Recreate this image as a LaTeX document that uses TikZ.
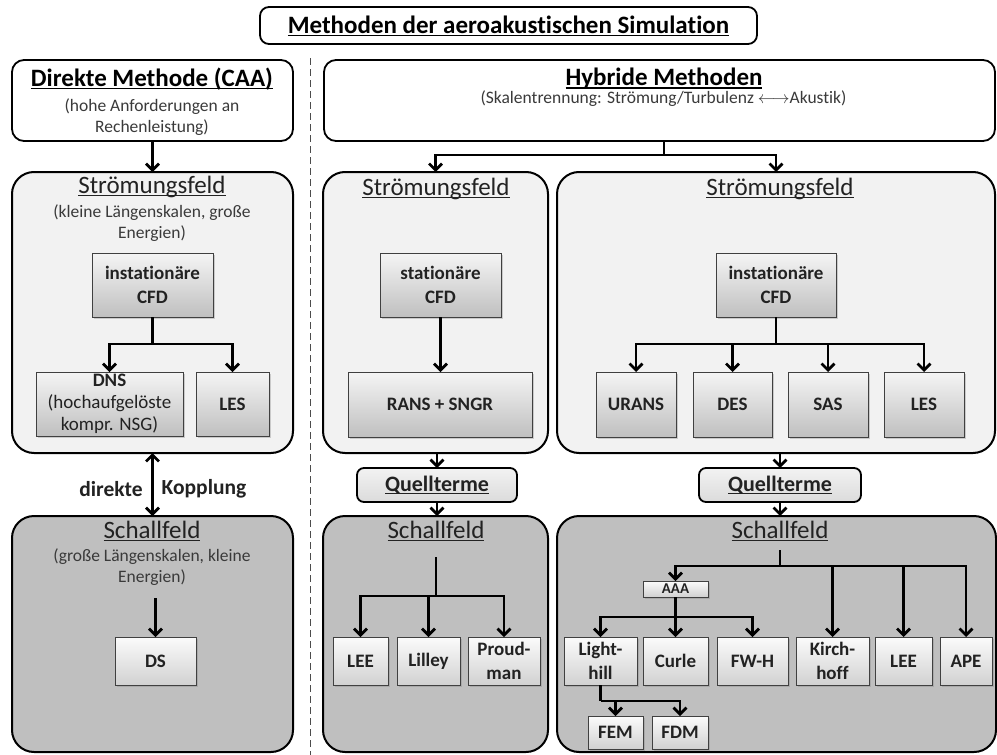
\documentclass[tikz,border=0pt]{standalone}
\usepackage{fontspec}
\setmainfont{Carlito}[Ligatures=NoCommon]
\usetikzlibrary{arrows.meta,shadows}
\definecolor{strfill}{HTML}{F2F2F2}
\definecolor{schfill}{HTML}{BFBFBF}
\definecolor{txt}{HTML}{222222}
\definecolor{subtxt}{HTML}{3A3A3A}
\newcommand\myul[1]{\setbox0=\hbox{#1}\rlap{\rule[-0.11em]{\wd0}{0.055em}}\box0}
\newcommand\bx[7][]{%
  \node[#1, minimum width={(#5-#3)*1pt}, minimum height={(#6-#4)*1pt}] (#2) at ({(#3+#5)/2},{(#4+#6)/2}) {#7};}
\tikzset{
  container/.style={draw=black, line width=2pt, rounded corners=22pt, inner sep=0pt, outer sep=0pt},
  strc/.style={container, fill=strfill},
  schc/.style={container, fill=schfill},
  topbox/.style={draw=black, line width=1.8pt, rounded corners=12pt, fill=white, inner sep=0pt, outer sep=0pt},
  gbox/.style={draw=black!75, line width=0.9pt, top color=gray!8, bottom color=gray!50,
     drop shadow={shadow xshift=2pt, shadow yshift=-2pt, opacity=0.35},
     align=center, font=\fontsize{19}{24}\selectfont\bfseries, text=txt, inner sep=0pt, outer sep=0pt},
  gboxS/.style={gbox, top color=gray!3, bottom color=gray!36},
  qbox/.style={draw=black, line width=1.8pt, rounded corners=7pt, top color=gray!10, bottom color=gray!28,
     font=\fontsize{22}{26}\selectfont\bfseries, text=txt, inner sep=0pt, outer sep=0pt},
  ttl/.style={font=\fontsize{25}{30}\selectfont, text=txt, inner sep=0pt},
  head/.style={font=\fontsize{25}{30}\selectfont\bfseries, text=black, inner sep=0pt},
  sub/.style={font=\fontsize{17.5}{21}\selectfont, text=subtxt, align=center, inner sep=0pt},
  line/.style={draw=black, line width=2.7pt},
  arr/.style={line, -{Straight Barb[length=6.5pt,width=13pt]}},
  darr/.style={line, {Straight Barb[length=6.5pt,width=13pt]}-{Straight Barb[length=6.5pt,width=13pt]}},
  dashline/.style={draw=black!70, line width=0.8pt, dash pattern=on 7pt off 4pt}
}
\begin{document}
\begin{tikzpicture}[x=1pt,y=-1pt]
\useasboundingbox (0,0) rectangle (997,755);
\fill[white] (0,0) rectangle (997,755);

% title
\bx[topbox, rounded corners=9pt]{title}{260}{7}{757}{44}{}
\node[head] (titleT) at (508.5,26) {\myul{Methoden der aeroakustischen Simulation}};

% separator
\draw[dashline] (310,58) -- (310,755);

% ================= left column =================
\bx[topbox]{direkt}{12}{60}{293}{141}{}
\node[head] (direktT) at (152,79) {\myul{Direkte Methode (CAA)}};
\node[sub] (direktS) at (152,117) {(hohe Anforderungen an\\Rechenleistung)};

\bx[strc]{lstroem}{12}{172}{293}{453}{}
\node[ttl] (lstroemT) at (152,187) {\myul{Strömungsfeld}};
\node[sub] (lstroemS) at (152,223) {(kleine Längenskalen, große\\Energien)};
\bx[gbox]{lcfd}{92}{253}{213}{317}{instationäre\\CFD}
\bx[gbox, font=\fontsize{19}{22}\selectfont\bfseries]{dns}{36}{372}{183}{436}{DNS\\\mdseries(hochaufgelöste\\\mdseries kompr. NSG)}
\bx[gbox]{lesL}{196}{372}{269}{436}{LES}
\coordinate (lj) at (152.5,344);
\draw[arr] (direkt) -- (lstroem);
\draw[line] (lcfd) -- (lj);
\draw[arr] (lj) -| (dns.north);
\draw[arr] (lj) -| (lesL.north);

\bx[schc]{lschall}{12}{516}{293}{752}{}
\node[ttl] (lschallT) at (152,531) {\myul{Schallfeld}};
\node[sub] (lschallS) at (152,567) {(große Längenskalen, kleine\\Energien)};
\bx[gboxS]{ds}{115}{637}{196}{685}{DS}
\coordinate (lsj) at (155.5,598);
\draw[arr] (lsj) -- (ds);

\draw[darr] (lstroem.south) -- (lschall.north);
\node[font=\fontsize{21.5}{25}\selectfont\bfseries, text=txt, inner sep=0pt] (kopp1) at (111,489) {direkte};
\node[font=\fontsize{21.5}{25}\selectfont\bfseries, text=txt, inner sep=0pt] (kopp2) at (204,489) {Kopplung};

% ================= hybrid header =================
\bx[topbox]{hyb}{324}{60}{995}{141}{}
\node[head] (hybT) at (664,79) {\myul{Hybride Methoden}};
\node[sub] (hybS) at (663.5,99) {(Skalentrennung: Strömung/Turbulenz $\longleftrightarrow$Akustik)};
\coordinate (hj) at (664,155);

% ================= middle column =================
\bx[strc]{mstroem}{323}{172}{548}{453}{}
\node[ttl] (mstroemT) at (436,189) {\myul{Strömungsfeld}};
\bx[gbox]{mcfd}{380}{253}{501}{317}{stationäre\\CFD}
\bx[gbox]{rans}{348}{372}{532}{437}{RANS + SNGR}
\draw[arr] (mcfd.south) -- (mcfd.south |- rans.north);

\bx[qbox]{mquell}{357}{468}{517}{502}{\myul{Quellterme}}
\draw[arr] (mquell.north |- mstroem.south) -- (mquell.north);

\bx[schc]{mschall}{323}{516}{548}{752}{}
\node[ttl] (mschallT) at (436,531) {\myul{Schallfeld}};
\draw[arr] (mquell.south) -- (mquell.south |- mschall.north);
\bx[gboxS]{leeM}{333}{637}{388}{685}{LEE}
\bx[gboxS]{lilley}{397}{637}{460}{685}{Lilley}
\bx[gboxS]{proud}{468}{637}{540}{685}{Proud-\\man}
\coordinate (mj0) at (436,557);
\coordinate (mj) at (436,596);
\draw[line] (mj0) -- (mj);
\draw[arr] (mj) -| (leeM.north);
\draw[arr] (mj) -| (lilley.north);
\draw[arr] (mj) -| (proud.north);

% ================= right column =================
\bx[strc]{rstroem}{557}{172}{995}{453}{}
\node[ttl] (rstroemT) at (780,189) {\myul{Strömungsfeld}};
\bx[gbox]{rcfd}{716}{253}{836}{317}{instationäre\\CFD}
\bx[gbox]{urans}{596}{372}{676}{437}{URANS}
\bx[gbox]{des}{693}{372}{772}{437}{DES}
\bx[gbox]{sas}{788}{372}{868}{437}{SAS}
\bx[gbox]{lesR}{884}{372}{964}{437}{LES}
\coordinate (rj) at (776,344);
\draw[line] (rcfd) -- (rj);
\draw[arr] (rj) -| (urans.north);
\draw[arr] (rj) -| (des.north);
\draw[arr] (rj) -| (sas.north);
\draw[arr] (rj) -| (lesR.north);

\draw[line] (hyb.south -| hj) -- (hj);
\draw[arr] (hj) -| (mstroem.north);
\draw[arr] (hj) -| (rstroem.north);

\bx[qbox]{rquell}{699}{468}{861}{502}{\myul{Quellterme}}
\draw[arr] (rquell.north |- rstroem.south) -- (rquell.north);

\bx[schc]{rschall}{557}{516}{996}{752}{}
\node[ttl] (rschallT) at (780,531) {\myul{Schallfeld}};
\draw[arr] (rquell.south) -- (rquell.south |- rschall.north);

\bx[gboxS, font=\fontsize{15}{16}\selectfont\bfseries]{aaa}{643}{581}{708}{597}{AAA}
\bx[gboxS]{light}{564}{637}{637}{685}{Light-\\hill}
\bx[gboxS]{curle}{643}{637}{708}{685}{Curle}
\bx[gboxS]{fwh}{717}{637}{788}{685}{FW-H}
\bx[gboxS]{kirch}{796}{637}{869}{685}{Kirch-\\hoff}
\bx[gboxS]{leeR}{875}{637}{932}{685}{LEE}
\bx[gboxS]{ape}{940}{637}{992}{685}{APE}
\bx[gboxS]{fem}{588}{716}{643}{749}{FEM}
\bx[gboxS]{fdm}{652}{716}{708}{749}{FDM}

\coordinate (rs0) at (780,550);
\coordinate (rs) at (780,566);
\draw[line] (rs0) -- (rs);
\draw[arr] (rs) -| (aaa.north);
\draw[arr] (rs) -| (kirch.north);
\draw[arr] (rs) -| (leeR.north);
\draw[arr] (rs) -| (ape.north);

\coordinate (aj) at (675.5,617);
\draw[line] (aaa) -- (aj);
\draw[arr] (aj) -| (light.north);
\draw[arr] (aj) -| (curle.north);
\draw[arr] (aj) -| (fwh.north);

\coordinate (fj) at (600.5,701);
\draw[line] (light) -- (fj);
\draw[arr] (fj) -| (fem.north);
\draw[arr] (fj) -| (fdm.north);
\end{tikzpicture}
\end{document}
